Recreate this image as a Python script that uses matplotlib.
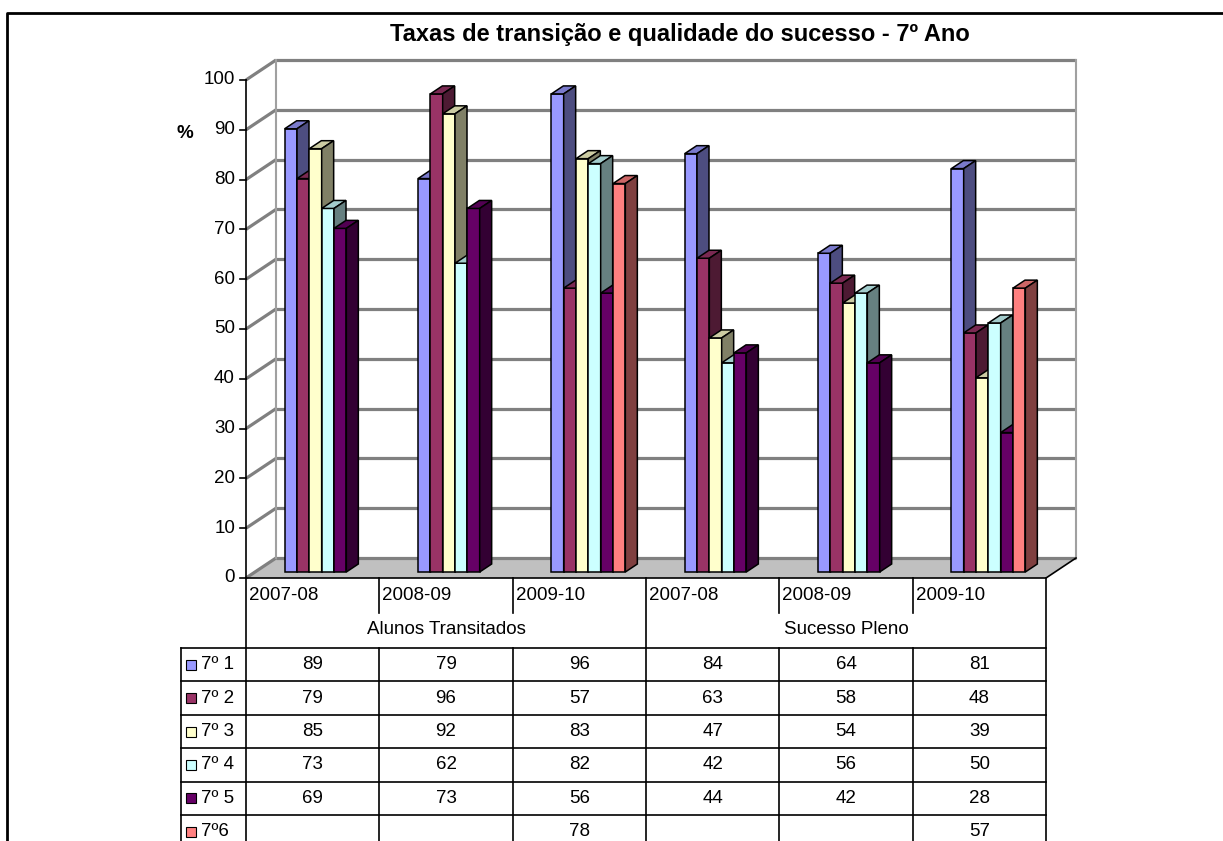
import matplotlib
matplotlib.use('Agg')
import matplotlib.pyplot as plt
from matplotlib.patches import Polygon, Rectangle
from matplotlib.colors import to_rgb

plt.rcParams['font.family'] = ['Liberation Sans', 'DejaVu Sans']

# data
title = 'Taxas de transição e qualidade do sucesso - 7º Ano'
years = ['2007-08', '2008-09', '2009-10', '2007-08', '2008-09', '2009-10']
groups = ['Alunos Transitados', 'Sucesso Pleno']
series = ['7º 1', '7º 2', '7º 3', '7º 4', '7º 5', '7º6']
s1 = [89, 79, 96, 84, 64, 81]
s2 = [79, 96, 57, 63, 58, 48]
s3 = [85, 92, 83, 47, 54, 39]
s4 = [73, 62, 82, 42, 56, 50]
s5 = [69, 73, 56, 44, 42, 28]
s6 = [None, None, 78, None, None, 57]
values = [s1, s2, s3, s4, s5, s6]
colors = ['#9999FF', '#993366', '#FFFFCC', '#CCFFFF', '#660066', '#FF8080']
yticks = list(range(0, 101, 10))

# layout (pixels)
W, H = 1223, 841
X0, CW = 246, 800 / 6      # front left of plot, width of one category
Y0, K = 578, 4.98          # baseline and pixels per percent
DX, DY = 30 / CW, 20 / K   # depth of the 3D box in data units
bw = 0.0925                # bar width

fig = plt.figure(figsize=(W / 100, H / 100), dpi=100)
ax = fig.add_axes([0, 0, 1, 1])
ax.set_xlim(-X0 / CW, (W - X0) / CW)
ax.set_ylim((Y0 - H) / K, Y0 / K)
ax.axis('off')

def shade(c, f):
    r, g, b = to_rgb(c)
    return (r * f, g * f, b * f)

# walls and floor
ax.add_patch(Polygon([(DX, DY), (6 + DX, DY), (6 + DX, 100 + DY), (DX, 100 + DY)],
                     closed=True, facecolor='white', edgecolor='none', zorder=1))
ax.add_patch(Polygon([(0, 0), (6, 0), (6 + DX, DY), (DX, DY)], closed=True,
                     facecolor='#C0C0C0', edgecolor='none', zorder=1))
for v in yticks:
    ax.plot([DX, 6 + DX], [v + DY, v + DY], color='#808080', lw=2.3, zorder=2,
            solid_capstyle='butt')
    ax.plot([0, DX], [v, v + DY], color='#808080', lw=2.3, zorder=2,
            solid_capstyle='butt')
ax.plot([DX, DX], [DY, 100 + DY], color='#A0A0A0', lw=1.5, zorder=2)
ax.plot([6 + DX, 6 + DX], [DY, 100 + DY], color='#A0A0A0', lw=1.5, zorder=2)
ax.plot([0, 6, 6 + DX], [0, 0, DY], color='black', lw=1.2, zorder=2)

# y axis
ax.plot([0, 0], [0, 100], color='black', lw=1.2, zorder=3)
for v in yticks:
    ax.plot([-6 / CW, 0], [v, v], color='black', lw=1.2, zorder=3)
    ax.text(-11 / CW, v, str(v), ha='right', va='center', fontsize=13.5)

# bars, left to right so each front face hides the side of the previous bar
z = 5
for g in range(6):
    for s in range(6):
        v = values[s][g]
        if v is None:
            continue
        x0 = g + 0.5 - 3 * bw + s * bw + 0.3 * DX
        b = 0.3 * DY
        t = b + v
        ex, ey = 0.4 * DX, 0.4 * DY
        c = colors[s]
        ax.add_patch(Rectangle((x0, b), bw, v, facecolor=c, edgecolor='black',
                               lw=1.1, zorder=z))
        ax.add_patch(Polygon([(x0, t), (x0 + bw, t), (x0 + bw + ex, t + ey), (x0 + ex, t + ey)],
                             closed=True, facecolor=shade(c, 0.8), edgecolor='black',
                             lw=1.1, zorder=z))
        ax.add_patch(Polygon([(x0 + bw, b), (x0 + bw + ex, b + ey), (x0 + bw + ex, t + ey), (x0 + bw, t)],
                             closed=True, facecolor=shade(c, 0.5), edgecolor='black',
                             lw=1.1, zorder=z))
        z += 1

# overlay in pixels for frame, title and data table
ov = fig.add_axes([0, 0, 1, 1], facecolor='none')
ov.set_xlim(0, W)
ov.set_ylim(H, 0)
ov.axis('off')

ov.plot([7, 7, W], [H, 13, 13], color='black', lw=2)
ov.text(680, 34, title, ha='center', va='center', fontsize=17, fontweight='bold')
ov.text(185, 133, '%', ha='center', va='center', fontsize=13.5, fontweight='bold')

cols = [X0 + CW * i for i in range(7)]
row_top = 648
row_h = 33.4
rows = [row_top + row_h * i for i in range(8)]
lc = 'black'
# category row and group row
for i in range(7):
    if i in (0, 3, 6):
        ov.plot([cols[i], cols[i]], [Y0, H], color=lc, lw=1.2)
    else:
        ov.plot([cols[i], cols[i]], [Y0, 613], color=lc, lw=1.2)
        ov.plot([cols[i], cols[i]], [row_top, H], color=lc, lw=1.2)
    if i < 6:
        ov.text(cols[i] + 3, 596, years[i], ha='left', va='center', fontsize=13.5)
for j, gname in enumerate(groups):
    ov.text((cols[3 * j] + cols[3 * j + 3]) / 2, 630, gname, ha='center', va='center',
            fontsize=13.5)
ov.plot([181, 181], [row_top, H], color=lc, lw=1.2)
for r in rows:
    ov.plot([181, cols[6]], [r, r], color=lc, lw=1.2)
for s in range(6):
    yc = rows[s] + row_h / 2
    ov.add_patch(Rectangle((186, yc - 5), 10, 10, facecolor=colors[s], edgecolor='black', lw=0.8))
    ov.text(201, yc, series[s], ha='left', va='center', fontsize=13.5)
    for g in range(6):
        v = values[s][g]
        if v is not None:
            ov.text((cols[g] + cols[g + 1]) / 2, yc, str(v), ha='center', va='center',
                    fontsize=13.5)

fig.savefig('out.png', dpi=100)
